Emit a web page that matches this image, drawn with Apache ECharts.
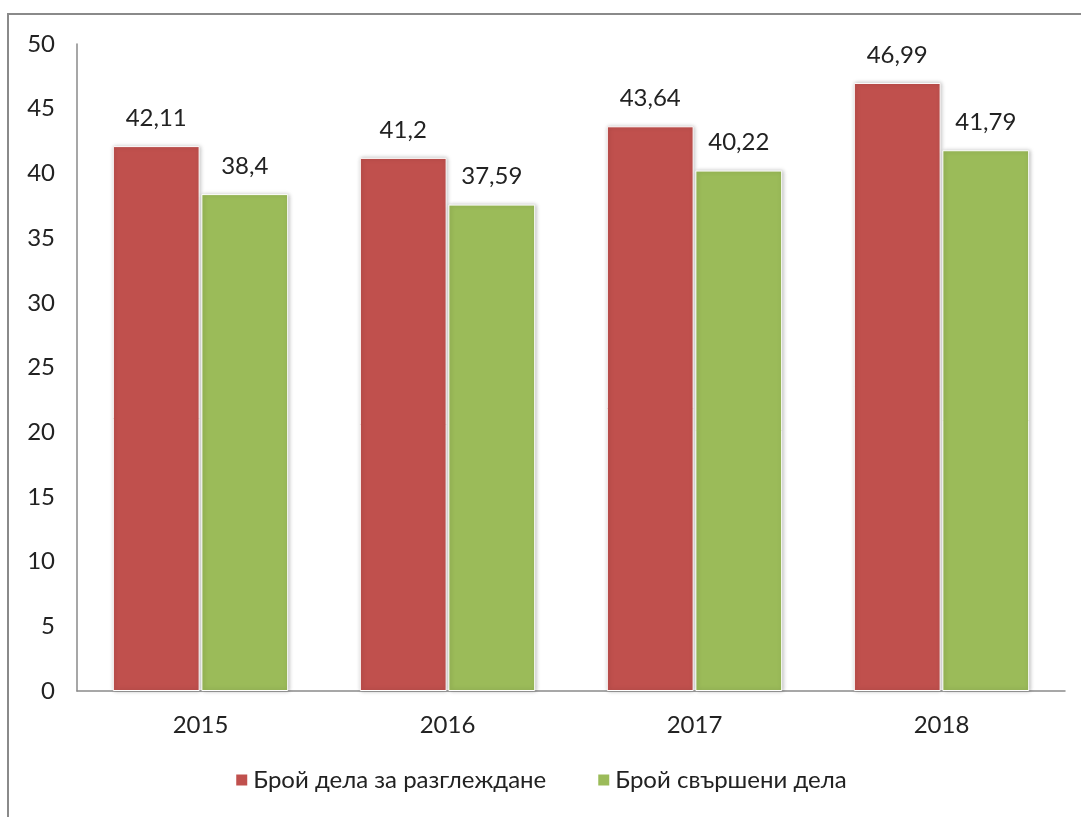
<!DOCTYPE html>
<html style="height: 100%">
<head>
    <meta charset="utf-8">
</head>
<body style="height: 100%; margin: 0; background: #fff">
    <div id="container" style="width: 1081px; height: 817px"></div>

    <script type="text/javascript" src="https://cdn.jsdelivr.net/npm/echarts@6.0.0/dist/echarts.min.js"></script>
    <script type="text/javascript">
        var years = ['2015', '2016', '2017', '2018'];
        var forReview = [42.11, 41.2, 43.64, 46.99];
        var completed = [38.4, 37.59, 40.22, 41.79];
        var seriesNames = ['Брой дела за разглеждане', 'Брой свършени дела'];

        var dom = document.getElementById("container");
        var myChart = echarts.init(dom);
        var font = 'Lato, "Open Sans", sans-serif';

        function fmt(p) {
            return String(p.value).replace('.', ',');
        }

        var barStyle = function (color) {
            return {
                color: color,
                borderColor: '#ffffff',
                borderWidth: 1,
                shadowColor: 'rgba(0,0,0,0.25)',
                shadowBlur: 4,
                shadowOffsetX: 1,
                shadowOffsetY: 0
            };
        };

        var option = {
            animation: false,
            textStyle: { fontFamily: font },
            graphic: [{
                type: 'rect',
                shape: { x: 8, y: 14, width: 1200, height: 900 },
                style: { fill: 'none', stroke: '#8a8a8a', lineWidth: 2 },
                z: -1
            }],
            grid: { left: 77, right: 16, top: 44, bottom: 126 },
            legend: {
                bottom: 20,
                left: 'center',
                itemWidth: 13,
                itemHeight: 13,
                itemGap: 50,
                icon: 'rect',
                textStyle: { fontSize: 24, color: '#222', fontFamily: font }
            },
            xAxis: {
                type: 'category',
                data: years,
                axisLine: { lineStyle: { color: '#8a8a8a', width: 1.5 } },
                axisTick: { show: false },
                axisLabel: { fontSize: 24, color: '#222', margin: 22 }
            },
            yAxis: {
                type: 'value',
                min: 0,
                max: 50,
                interval: 5,
                axisLine: { show: true, lineStyle: { color: '#8a8a8a', width: 1.5 } },
                axisTick: { show: false },
                splitLine: { show: false },
                axisLabel: { fontSize: 24, color: '#222', margin: 22 }
            },
            series: [
                {
                    name: seriesNames[0],
                    type: 'bar',
                    data: forReview,
                    barGap: '2%',
                    barCategoryGap: '29%',
                    itemStyle: barStyle('#c0504d'),
                    label: {
                        show: true,
                        position: 'top',
                        distance: 16,
                        fontSize: 24,
                        color: '#222',
                        formatter: fmt
                    }
                },
                {
                    name: seriesNames[1],
                    type: 'bar',
                    data: completed,
                    barGap: '2%',
                    barCategoryGap: '29%',
                    itemStyle: barStyle('#9bbb59'),
                    label: {
                        show: true,
                        position: 'top',
                        distance: 16,
                        fontSize: 24,
                        color: '#222',
                        formatter: fmt
                    }
                }
            ]
        };
        myChart.setOption(option);
    </script>
</body>
</html>
